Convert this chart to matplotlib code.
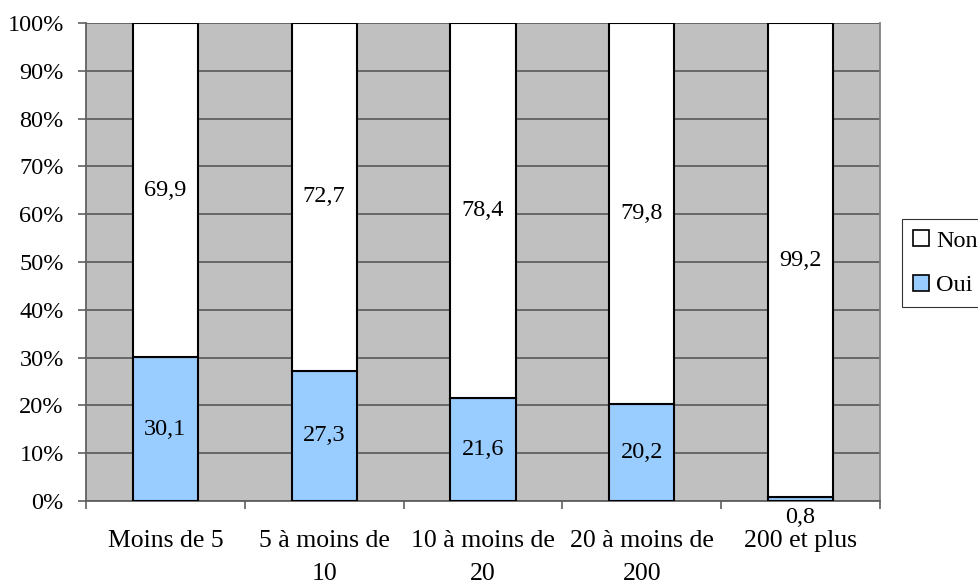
import matplotlib
matplotlib.use("Agg")
import matplotlib.pyplot as plt
from matplotlib.patches import Patch
from matplotlib.ticker import FixedLocator, NullFormatter

categories = ["Moins de 5", "5 à moins de\n10", "10 à moins de\n20", "20 à moins de\n200", "200 et plus"]
oui = [30.1, 27.3, 21.6, 20.2, 0.8]
non = [69.9, 72.7, 78.4, 79.8, 99.2]
oui_labels = ["30,1", "27,3", "21,6", "20,2", "0,8"]
non_labels = ["69,9", "72,7", "78,4", "79,8", "99,2"]
y_ticks = [0, 10, 20, 30, 40, 50, 60, 70, 80, 90, 100]
y_tick_labels = [f"{t}%" for t in y_ticks]

plt.rcParams["font.family"] = ["Liberation Serif", "DejaVu Serif"]
FS = 17.5
CAT_FS = 18.5
OUI_COLOR = "#99CCFF"
NON_COLOR = "#FFFFFF"
BG = "#C0C0C0"
GRID = "#606060"

fig = plt.figure(figsize=(9.79, 5.86), dpi=100)
ax = fig.add_axes([86 / 979, 1 - 501 / 586, (880 - 86) / 979, (501 - 23) / 586])
ax.set_facecolor(BG)

x = list(range(len(categories)))
width = 0.41
ax.bar(x, oui, width, color=OUI_COLOR, edgecolor="black", linewidth=1.5, zorder=3, label="Oui")
ax.bar(x, non, width, bottom=oui, color=NON_COLOR, edgecolor="black", linewidth=1.5, zorder=3, label="Non")

# value labels
for i in x:
    if oui[i] >= 5:
        ax.text(i, oui[i] / 2, oui_labels[i], ha="center", va="center", fontsize=FS, zorder=4)
    else:
        ax.annotate(oui_labels[i], xy=(i, 0), xytext=(0, -4), textcoords="offset points",
                    ha="center", va="top", fontsize=FS, annotation_clip=False, zorder=4)
    ax.text(i, oui[i] + non[i] / 2, non_labels[i], ha="center", va="center", fontsize=FS, zorder=4)

ax.set_xlim(-0.5, len(categories) - 0.5)
ax.set_ylim(0, 100)

ax.set_yticks(y_ticks)
ax.set_yticklabels(y_tick_labels, fontsize=FS)
ax.tick_params(axis="y", length=6, width=1.2, color=GRID, pad=10)
ax.yaxis.grid(True, color=GRID, linewidth=1.3, zorder=1)
ax.set_axisbelow(True)

ax.set_xticks(x)
ax.set_xticklabels(categories, fontsize=CAT_FS, linespacing=1.65)
ax.tick_params(axis="x", which="major", length=0, pad=21)
ax.xaxis.set_minor_locator(FixedLocator([i - 0.5 for i in range(len(categories) + 1)]))
ax.xaxis.set_minor_formatter(NullFormatter())
ax.tick_params(axis="x", which="minor", length=6, width=1.2, color=GRID)

ax.spines["top"].set_visible(False)
ax.spines["left"].set_color(GRID)
ax.spines["left"].set_linewidth(1.3)
ax.spines["bottom"].set_color(GRID)
ax.spines["bottom"].set_linewidth(1.3)
ax.spines["right"].set_color("#808080")
ax.spines["right"].set_linewidth(1.3)

handles = [Patch(facecolor=NON_COLOR, edgecolor="black", linewidth=1.2, label="Non"),
           Patch(facecolor=OUI_COLOR, edgecolor="black", linewidth=1.2, label="Oui")]
leg = fig.legend(handles=handles, loc="upper left", bbox_to_anchor=(902 / 979, 1 - 219 / 586),
                 fontsize=FS, frameon=True, fancybox=False, handlelength=0.65, handleheight=0.65,
                 handletextpad=0.3, borderpad=0.45, labelspacing=0.95, borderaxespad=0)
leg.get_frame().set_edgecolor("black")
leg.get_frame().set_linewidth(0.8)

fig.savefig("out.png", dpi=100)
